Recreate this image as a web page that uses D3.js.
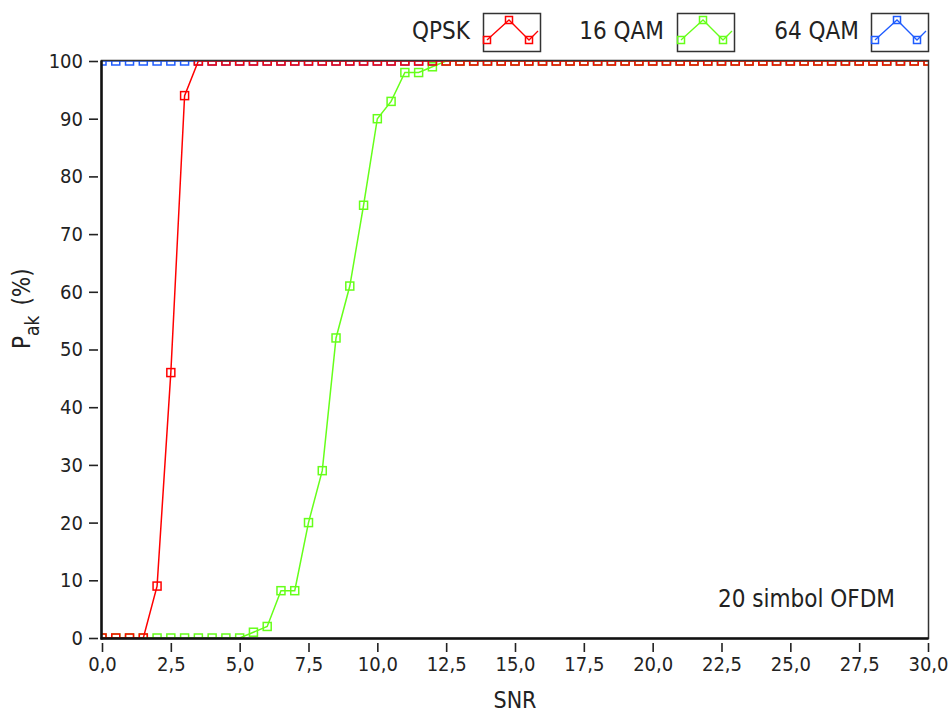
<!DOCTYPE html>
<html>
<head>
<meta charset="utf-8">
<script src="https://cdn.jsdelivr.net/npm/d3@7"></script>
<style>
  html, body { margin: 0; padding: 0; background: #fff; }
  svg { display: block; }
  text { font-family: "DejaVu Sans Condensed", "DejaVu Sans", sans-serif; font-stretch: condensed; fill: #222; }
</style>
</head>
<body>
<svg id="chart" width="948" height="713"></svg>
<script>
const snr = [0, 0.5, 1, 1.5, 2, 2.5, 3, 3.5, 4, 4.5, 5, 5.5, 6, 6.5, 7, 7.5, 8, 8.5, 9, 9.5,
  10, 10.5, 11, 11.5, 12, 12.5, 13, 13.5, 14, 14.5, 15, 15.5, 16, 16.5, 17, 17.5, 18, 18.5, 19, 19.5,
  20, 20.5, 21, 21.5, 22, 22.5, 23, 23.5, 24, 24.5, 25, 25.5, 26, 26.5, 27, 27.5, 28, 28.5, 29, 29.5, 30];
const qpsk = [0, 0, 0, 0, 9, 46, 94, 100, 100, 100, 100, 100, 100, 100, 100, 100, 100, 100, 100, 100,
  100, 100, 100, 100, 100, 100, 100, 100, 100, 100, 100, 100, 100, 100, 100, 100, 100, 100, 100, 100,
  100, 100, 100, 100, 100, 100, 100, 100, 100, 100, 100, 100, 100, 100, 100, 100, 100, 100, 100, 100, 100];
const qam16 = [0, 0, 0, 0, 0, 0, 0, 0, 0, 0, 0, 1, 2, 8.2, 8.2, 20, 29, 52, 61, 75,
  90, 93, 98, 98, 99, 100, 100, 100, 100, 100, 100, 100, 100, 100, 100, 100, 100, 100, 100, 100,
  100, 100, 100, 100, 100, 100, 100, 100, 100, 100, 100, 100, 100, 100, 100, 100, 100, 100, 100, 100, 100];
const qam64 = [100, 100, 100, 100, 100, 100, 100, 100, 100, 100, 100, 100, 100, 100, 100, 100, 100, 100, 100, 100,
  100, 100, 100, 100, 100, 100, 100, 100, 100, 100, 100, 100, 100, 100, 100, 100, 100, 100, 100, 100,
  100, 100, 100, 100, 100, 100, 100, 100, 100, 100, 100, 100, 100, 100, 100, 100, 100, 100, 100, 100, 100];
const seriesNames = ["QPSK", "16 QAM", "64 QAM"];
const seriesColors = ["#ff0000", "#66ff1a", "#1f5cff"];
const xTicks = [0, 2.5, 5, 7.5, 10, 12.5, 15, 17.5, 20, 22.5, 25, 27.5, 30];
const yTicks = [0, 10, 20, 30, 40, 50, 60, 70, 80, 90, 100];
const annotation = "20 simbol OFDM";

const svg = d3.select("#chart");
const L = 101.5, R = 928.5, T = 60.5, B = 638.5;
const x = d3.scaleLinear().domain([0, 30]).range([102, 928]);
const y = d3.scaleLinear().domain([0, 100]).range([638, 61]);

svg.append("defs").append("clipPath").attr("id", "plotclip")
  .append("rect").attr("x", L).attr("y", T).attr("width", R - L).attr("height", B - T);

// Axes
const fmt = d => d3.format(".1f")(d).replace(".", ",");
const xAxis = svg.append("g").attr("transform", "translate(0,643)")
  .call(d3.axisBottom(x).tickValues(xTicks).tickFormat(fmt).tickSize(9).tickPadding(5).tickSizeOuter(0));
xAxis.select(".domain").remove();
xAxis.selectAll("line").attr("stroke", "#222").attr("stroke-width", 1.6);
xAxis.selectAll("text").attr("font-size", 20).attr("fill", "#222");

const yAxis = svg.append("g").attr("transform", "translate(98,0)")
  .call(d3.axisLeft(y).tickValues(yTicks).tickSize(9).tickSizeOuter(0).tickPadding(6));
yAxis.select(".domain").remove();
yAxis.selectAll("line").attr("stroke", "#222").attr("stroke-width", 1.6);
yAxis.selectAll("text").attr("font-size", 20).attr("fill", "#222");

// Series
const allSeries = [
  { name: seriesNames[2], vals: qam64, color: seriesColors[2] },
  { name: seriesNames[1], vals: qam16, color: seriesColors[1] },
  { name: seriesNames[0], vals: qpsk, color: seriesColors[0] }
];
const plot = svg.append("g").attr("clip-path", "url(#plotclip)");
const line = d3.line().x((d, i) => x(snr[i])).y(d => y(d));
allSeries.forEach(s => {
  const g = plot.append("g");
  g.append("path").datum(s.vals).attr("d", line)
    .attr("fill", "none").attr("stroke", s.color).attr("stroke-width", 1.5);
  g.selectAll("rect").data(s.vals).join("rect")
    .attr("x", (d, i) => x(snr[i]) - 4).attr("y", d => y(d) - 4)
    .attr("width", 8).attr("height", 8)
    .attr("fill", "none").attr("stroke", s.color).attr("stroke-width", 1.5);
});

// Frame
svg.append("rect").attr("x", L).attr("y", T).attr("width", R - L).attr("height", B - T)
  .attr("fill", "none").attr("stroke", "#333").attr("stroke-width", 1.5);
svg.append("line").attr("x1", L).attr("x2", L).attr("y1", T).attr("y2", B + 1)
  .attr("stroke", "#111").attr("stroke-width", 2.5);
svg.append("line").attr("x1", L - 1).attr("x2", R).attr("y1", B).attr("y2", B)
  .attr("stroke", "#111").attr("stroke-width", 2.5);

// Axis titles
svg.append("text").attr("x", x(15)).attr("y", 708).attr("text-anchor", "middle")
  .attr("font-size", 23).text("SNR");
const yt = svg.append("text").attr("transform", "translate(30,349) rotate(-90)")
  .attr("text-anchor", "start").attr("font-size", 24);
yt.append("tspan").text("P");
yt.append("tspan").attr("font-size", 19).attr("dy", 9).text("ak");
yt.append("tspan").attr("dy", -9).attr("dx", 10).text("(%)");

// Annotation
svg.append("text").attr("x", 895).attr("y", 607).attr("text-anchor", "end")
  .attr("font-size", 24).text(annotation);

// Legend
const legend = [
  { name: seriesNames[0], color: seriesColors[0], tx: 470, bx: 483 },
  { name: seriesNames[1], color: seriesColors[1], tx: 664, bx: 677 },
  { name: seriesNames[2], color: seriesColors[2], tx: 859, bx: 871 }
];
const bw = 57, bh = 38, by = 13;
const iconPts = [[4, 27], [26, 7], [46, 27], [55, 18]];
legend.forEach(l => {
  svg.append("text").attr("x", l.tx).attr("y", 39).attr("text-anchor", "end")
    .attr("font-size", 24).text(l.name);
  const g = svg.append("g").attr("transform", `translate(${l.bx},${by})`);
  g.append("rect").attr("x", 0.5).attr("y", 0.5).attr("width", bw).attr("height", bh)
    .attr("fill", "#fff").attr("stroke", "#333").attr("stroke-width", 1.5);
  g.append("path").attr("d", d3.line()(iconPts)).attr("fill", "none")
    .attr("stroke", l.color).attr("stroke-width", 1.3);
  iconPts.slice(0, 3).forEach(p => {
    g.append("rect").attr("x", p[0] - 3.5).attr("y", p[1] - 3.5).attr("width", 7).attr("height", 7)
      .attr("fill", "none").attr("stroke", l.color).attr("stroke-width", 1.5);
  });
});
</script>
</body>
</html>
